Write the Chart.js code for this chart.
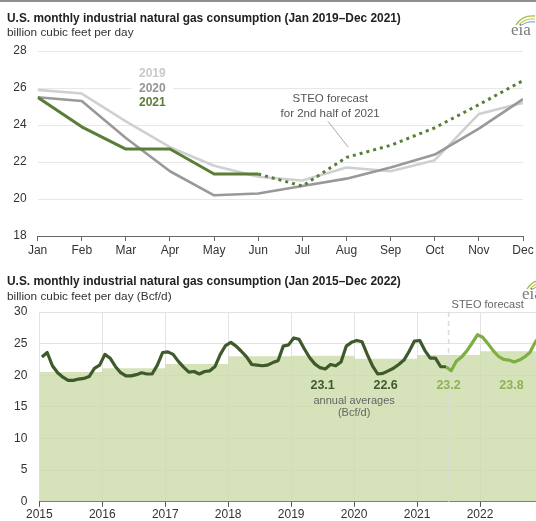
<!DOCTYPE html>
<html>
<head>
<meta charset="utf-8">
<script src="https://cdn.jsdelivr.net/npm/chart.js@4.4.0/dist/chart.umd.min.js"></script>
<style>
  html, body { margin: 0; padding: 0; background: #fff; }
  body { width: 536px; height: 521px; overflow: hidden; position: relative; font-family: "Liberation Sans", Arial, sans-serif; }
  .topline { position: absolute; left: 0; top: 0; width: 536px; height: 2px; background: #8e8e8e; }
  .title { position: absolute; left: 7px; font-weight: bold; font-size: 11.9px; line-height: 14px; color: #222; white-space: nowrap; }
  .sub { position: absolute; left: 7px; font-size: 11.8px; line-height: 14px; color: #333; white-space: nowrap; }
  canvas { position: absolute; left: 0; }
  .logo { position: absolute; font-family: "Liberation Serif", "DejaVu Serif", serif; font-size: 17px; line-height: 18px; color: #7a7a7a; }
  .swoosh { position: absolute; }
</style>
</head>
<body>
<canvas id="topChart" width="536" height="262" style="top:0"></canvas>
<canvas id="bottomChart" width="544" height="259" style="top:262px"></canvas>

<div class="topline"></div>
<div class="title" style="top:11px">U.S. monthly industrial natural gas consumption (Jan 2019–Dec 2021)</div>
<div class="sub" style="top:25px">billion cubic feet per day</div>
<div class="title" style="top:274px">U.S. monthly industrial natural gas consumption (Jan 2015–Dec 2022)</div>
<div class="sub" style="top:289px">billion cubic feet per day (Bcf/d)</div>

<svg class="swoosh" style="left:513px;top:12px" width="23" height="14">
  <path d="M3 13 Q 9 3 22 4" stroke="#9cc45a" fill="none" stroke-width="1.4"/>
  <path d="M6 13 Q 12 6 22 7" stroke="#e8c440" fill="none" stroke-width="1.2"/>
  <path d="M9 13 Q 14 9 22 10" stroke="#5b9bd0" fill="none" stroke-width="1"/>
</svg>
<div class="logo" style="left:511px;top:21px">eia</div>
<svg class="swoosh" style="left:524px;top:276px" width="23" height="14">
  <path d="M3 13 Q 9 3 22 4" stroke="#9cc45a" fill="none" stroke-width="1.4"/>
  <path d="M6 13 Q 12 6 22 7" stroke="#e8c440" fill="none" stroke-width="1.2"/>
  <path d="M9 13 Q 14 9 22 10" stroke="#5b9bd0" fill="none" stroke-width="1"/>
</svg>
<div class="logo" style="left:522px;top:285px">eia</div>

<script>
// --- data (billion cubic feet per day) ---
const months = ['Jan', 'Feb', 'Mar', 'Apr', 'May', 'Jun', 'Jul', 'Aug', 'Sep', 'Oct', 'Nov', 'Dec'];
const years = ['2015', '2016', '2017', '2018', '2019', '2020', '2021', '2022'];

const cons2015 = [22.9, 23.6, 21.5, 20.4, 19.7, 19.2, 19.2, 19.4, 19.5, 19.8, 21.1, 21.6];
const cons2016 = [23.3, 22.7, 21.4, 20.4, 19.9, 19.9, 20.1, 20.4, 20.2, 20.2, 21.6, 23.6];
const cons2017 = [23.7, 23.3, 22.2, 21.3, 20.5, 20.6, 20.2, 20.6, 20.7, 21.4, 23.3, 24.7];
const cons2018 = [25.2, 24.6, 23.8, 22.9, 21.7, 21.6, 21.5, 21.6, 22.0, 22.3, 24.6, 24.8];
const cons2019 = [25.9, 25.7, 24.2, 22.8, 21.8, 21.2, 21.0, 21.7, 21.5, 22.1, 24.6, 25.2];
const cons2020 = [25.5, 25.3, 23.3, 21.5, 20.2, 20.3, 20.7, 21.1, 21.7, 22.4, 23.8, 25.4];
const cons2021 = [25.5, 23.9, 22.7, 22.7, 21.35, 21.35];           // Jan-Jun actual
const steo2021 = [20.7, 22.25, 22.9, 23.85, 25.1, 26.4];          // Jul-Dec forecast
const steo2022 = [26.0, 25.0, 23.9, 23.0, 22.5, 22.4, 22.1, 22.4, 22.9, 23.6, 25.2, 26.4];

const annualAvg = [20.5, 21.1, 21.8, 23.0, 23.1, 22.6, 23.2, 23.8];
const labelledYears = [4, 5, 6, 7];      // years that carry an average label
const forecastYears = [6, 7];            // light green labels

const green = '#5a7d37';
const darkGreen = '#3e5a2a';
const lightGreen = '#7fae42';

Chart.defaults.font.family = '"Liberation Sans", Arial, sans-serif';
Chart.defaults.color = '#333';

// --- top chart: 2019, 2020, 2021 by month ---
const actual2021 = cons2021.map((v, i) => ({ x: i, y: v }));
const forecast2021 = [{ x: cons2021.length - 1, y: cons2021[cons2021.length - 1] }]
  .concat(steo2021.map((v, i) => ({ x: cons2021.length + i, y: v })));

const topNotes = {
    id: 'topNotes',
    beforeDatasetsDraw(chart) {
        const { ctx, scales: { x, y } } = chart;
        const cx = x.getPixelForValue(2.6), cy = y.getPixelForValue(25.97);
        ctx.save();
        ctx.fillStyle = '#fff';
        ctx.fillRect(cx - 21, cy - 22, 42, 44);
        ctx.restore();
    },
    afterDatasetsDraw(chart) {
        const { ctx, scales: { x, y } } = chart;
        ctx.save();
        ctx.textAlign = 'center';
        ctx.textBaseline = 'middle';
        ctx.font = 'bold 12px "Liberation Sans", Arial, sans-serif';
        const cx = x.getPixelForValue(2.6);
        [['2019', '#c9c9c9', 26.75], ['2020', '#959595', 25.97], ['2021', green, 25.18]].forEach(([t, c, v]) => {
            ctx.fillStyle = c;
            ctx.fillText(t, cx, y.getPixelForValue(v));
        });
        ctx.font = '11.5px "Liberation Sans", Arial, sans-serif';
        ctx.fillStyle = '#555';
        ctx.fillText('STEO forecast', x.getPixelForValue(6.63), y.getPixelForValue(25.4));
        ctx.fillText('for 2nd half of 2021', x.getPixelForValue(6.63), y.getPixelForValue(24.62));
        // leader line
        ctx.strokeStyle = '#a8a8a8';
        ctx.lineWidth = 1;
        ctx.beginPath();
        ctx.moveTo(x.getPixelForValue(6.58), y.getPixelForValue(24.2));
        ctx.lineTo(x.getPixelForValue(7.04), y.getPixelForValue(22.8));
        ctx.stroke();
        ctx.restore();
    }
};

new Chart(document.getElementById('topChart'), {
    type: 'line',
    data: {
        datasets: [
            { label: '2021', data: actual2021, borderColor: green, borderWidth: 3 },
            { label: 'STEO forecast', data: forecast2021, borderColor: green, borderWidth: 3, borderDash: [3, 4] },
            { label: '2020', data: cons2020.map((v, i) => ({ x: i, y: v })), borderColor: '#999999', borderWidth: 2.6 },
            { label: '2019', data: cons2019.map((v, i) => ({ x: i, y: v })), borderColor: '#d0d0d0', borderWidth: 2.6 }
        ]
    },
    options: {
        responsive: false,
        animation: false,
        elements: { point: { radius: 0 }, line: { tension: 0, borderJoinStyle: 'round' } },
        plugins: { legend: { display: false }, tooltip: { enabled: false } },
        layout: { padding: { top: 51, right: 13, bottom: 0, left: 0 } },
        scales: {
            x: {
                type: 'linear', min: 0, max: 11,
                afterBuildTicks: ax => { ax.ticks = months.map((m, i) => ({ value: i })); },
                afterFit: ax => { ax.height = 26; },
                ticks: { callback: v => months[v], autoSkip: false, maxRotation: 0, padding: 2, font: { size: 12 }, color: '#333' },
                grid: { drawOnChartArea: false, tickLength: 5, tickColor: '#666' },
                border: { color: '#666' }
            },
            y: {
                min: 18, max: 28,
                afterFit: ax => { ax.width = 37.6; },
                ticks: { stepSize: 2, padding: 11, font: { size: 12 }, color: '#333' },
                grid: { color: '#e8e8e8', drawTicks: false },
                border: { display: false }
            }
        }
    },
    plugins: [topNotes]
});

// --- bottom chart: Jan 2015 - Dec 2022 with annual averages ---
const history = cons2015.concat(cons2016, cons2017, cons2018, cons2019, cons2020, cons2021);
const outlook = [history[history.length - 1]].concat(steo2021, steo2022);
const forecastStart = history.length;   // Jul 2021

const histPts = history.map((v, i) => ({ x: i + 0.5, y: v }));
const outPts = outlook.map((v, i) => ({ x: forecastStart - 1 + i + 0.5, y: v }));
const avgPts = annualAvg.map((v, i) => ({ x: i * 12, y: v }))
  .concat([{ x: annualAvg.length * 12, y: annualAvg[annualAvg.length - 1] }]);

const bottomNotes = {
    id: 'bottomNotes',
    afterDatasetDraw(chart, args) {
        if (args.index !== 2) return;
        const { ctx, chartArea, scales: { x } } = chart;
        const px = x.getPixelForValue(forecastStart);
        ctx.save();
        ctx.strokeStyle = '#dadada';
        ctx.lineWidth = 1.5;
        ctx.setLineDash([5, 4]);
        ctx.beginPath();
        ctx.moveTo(px, chartArea.top);
        ctx.lineTo(px, chartArea.bottom);
        ctx.stroke();
        ctx.restore();
    },
    afterDatasetsDraw(chart) {
        const { ctx, chartArea, scales: { x, y } } = chart;
        ctx.save();
        ctx.textBaseline = 'middle';
        ctx.textAlign = 'left';
        ctx.font = '11px "Liberation Sans", Arial, sans-serif';
        ctx.fillStyle = '#666';
        ctx.fillText('STEO forecast', x.getPixelForValue(forecastStart) + 3, chartArea.top - 7);

        ctx.textAlign = 'center';
        ctx.font = 'bold 12.5px "Liberation Sans", Arial, sans-serif';
        labelledYears.forEach(i => {
            ctx.fillStyle = forecastYears.includes(i) ? '#8db356' : '#3f5a2c';
            ctx.fillText(annualAvg[i].toFixed(1), x.getPixelForValue(i * 12 + 6), y.getPixelForValue(18.3));
        });
        ctx.font = '11px "Liberation Sans", Arial, sans-serif';
        ctx.fillStyle = '#666';
        ctx.fillText('annual averages', x.getPixelForValue(60), y.getPixelForValue(16.0));
        ctx.fillText('(Bcf/d)', x.getPixelForValue(60), y.getPixelForValue(14.1));
        ctx.restore();
    }
};

new Chart(document.getElementById('bottomChart'), {
    type: 'line',
    data: {
        datasets: [
            { label: 'monthly', data: histPts, borderColor: darkGreen, borderWidth: 3.2 },
            { label: 'STEO forecast', data: outPts, borderColor: lightGreen, borderWidth: 3.2 },
            { label: 'annual average', data: avgPts, stepped: 'before', borderWidth: 0, borderColor: 'rgba(0,0,0,0)',
              fill: 'origin', backgroundColor: 'rgba(204,219,168,0.8)' }
        ]
    },
    options: {
        responsive: false,
        animation: false,
        elements: { point: { radius: 0 }, line: { tension: 0, borderJoinStyle: 'round' } },
        plugins: { legend: { display: false }, tooltip: { enabled: false } },
        layout: { padding: { top: 50, right: 1, bottom: 0, left: 0 } },
        scales: {
            x: {
                type: 'linear', min: 0, max: years.length * 12,
                afterBuildTicks: ax => { ax.ticks = years.map((yr, i) => ({ value: i * 12 })); },
                afterFit: ax => { ax.height = 17; },
                ticks: { callback: v => years[v / 12], autoSkip: false, maxRotation: 0, padding: 1, font: { size: 12 }, color: '#333' },
                grid: { color: '#e3e3e3', tickLength: 5, tickColor: '#555' },
                border: { color: '#555' }
            },
            y: {
                min: 0, max: 30,
                afterFit: ax => { ax.width = 39.3; },
                ticks: { stepSize: 5, padding: 12, font: { size: 12 }, color: '#333' },
                grid: { color: '#e3e3e3', drawTicks: false },
                border: { display: false }
            }
        }
    },
    plugins: [bottomNotes]
});
</script>
</body>
</html>
